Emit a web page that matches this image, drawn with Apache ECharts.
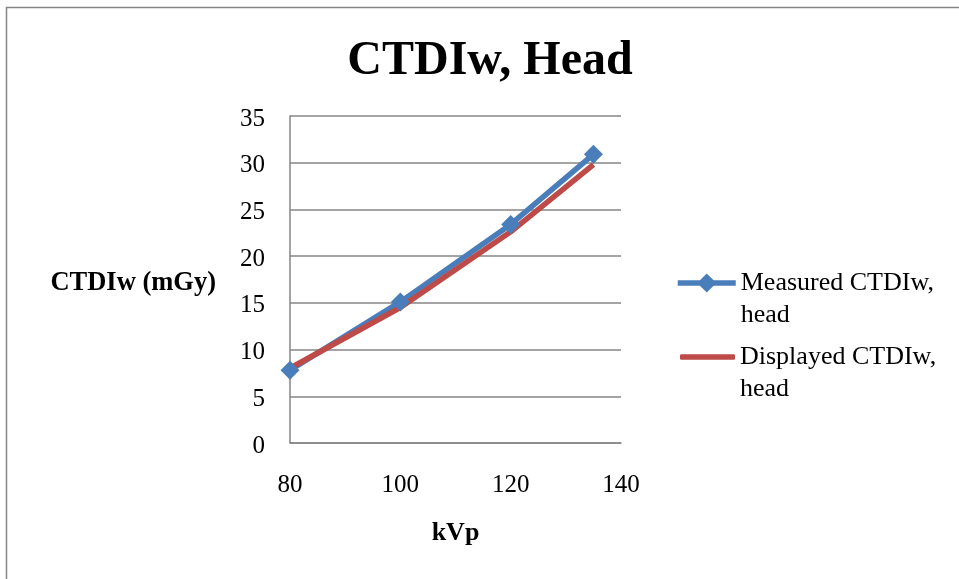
<!DOCTYPE html>
<html>
<head>
<meta charset="utf-8">
<script src="https://cdn.jsdelivr.net/npm/echarts@6/dist/echarts.min.js"></script>
<style>
  html, body { margin: 0; padding: 0; background: #fff; }
  #chart { width: 959px; height: 579px; }
</style>
</head>
<body>
<div id="chart"></div>
<script>
// CTDIw for head scans at each tube voltage
const kvp = [80, 100, 120, 135];
const measured = [7.8, 15.1, 23.4, 30.9];
const displayed = [8.0, 14.5, 22.6, 29.8];
const seriesNames = ['Measured CTDIw,\nhead', 'Displayed CTDIw,\nhead'];

const FONT = '"Liberation Serif", "Times New Roman", serif';
const GRAY = '#868686';
const BLUE = '#4a7ebb';
const RED = '#be4b48';

const pairs = (ys) => kvp.map((x, i) => [x, ys[i]]);

// a blank first line keeps the legend marker level with the first text line
const legendText = { fontFamily: FONT, fontSize: 26, color: '#000', lineHeight: 32 };
const legendFormatter = (name) => '\n' + name;

const chart = echarts.init(document.getElementById('chart'), null, { renderer: 'canvas' });
chart.setOption({
  animation: false,
  backgroundColor: '#fff',
  title: {
    text: 'CTDIw, Head',
    left: 485, top: 33, textAlign: 'center',
    textStyle: { fontFamily: FONT, fontSize: 48, fontWeight: 'bold', color: '#000' }
  },
  grid: { left: 290, right: 338, top: 116, bottom: 136, containLabel: false },
  xAxis: {
    type: 'value', min: 80, max: 140, interval: 20,
    name: 'kVp', nameLocation: 'middle', nameGap: 77,
    nameTextStyle: { fontFamily: FONT, fontSize: 26, fontWeight: 'bold', color: '#000' },
    axisLine: { show: true, lineStyle: { color: GRAY, width: 1.5 } },
    axisTick: { show: false },
    splitLine: { show: false },
    axisLabel: { fontFamily: FONT, fontSize: 25, color: '#000', margin: 30 }
  },
  yAxis: {
    type: 'value', min: 0, max: 35, interval: 5,
    name: 'CTDIw (mGy)', nameLocation: 'middle', nameRotate: 0, nameGap: 74,
    nameTextStyle: {
      fontFamily: FONT, fontSize: 26.5, fontWeight: 'bold', color: '#000',
      align: 'right', verticalAlign: 'top', lineHeight: 7
    },
    axisLine: { show: true, lineStyle: { color: GRAY, width: 1.5 } },
    axisTick: { show: false },
    splitLine: { show: true, lineStyle: { color: GRAY, width: 1.5 } },
    axisLabel: {
      fontFamily: FONT, fontSize: 25, color: '#000', margin: 25,
      verticalAlign: 'top', lineHeight: 6
    }
  },
  legend: [
    {
      data: [seriesNames[0]], left: 675, top: 283 - 48, padding: 0,
      itemWidth: 58, itemHeight: 24, itemGap: 4,
      lineStyle: { width: 5.5 },
      formatter: legendFormatter, textStyle: legendText
    },
    {
      data: [{ name: seriesNames[1], icon: 'roundRect' }], left: 680, top: 357 - 48, padding: 0,
      itemWidth: 55, itemHeight: 5.5, itemGap: 4,
      formatter: legendFormatter, textStyle: legendText
    }
  ],
  graphic: [{
    type: 'rect', silent: true, z: -1,
    shape: { x: 6.5, y: 7.5, width: 1200, height: 1200 },
    style: { fill: 'none', stroke: GRAY, lineWidth: 1.5 }
  }],
  series: [
    {
      name: seriesNames[0], type: 'line', data: pairs(measured),
      symbol: 'diamond', symbolSize: 19, showSymbol: true,
      lineStyle: { color: BLUE, width: 5.5 },
      itemStyle: { color: BLUE }
    },
    {
      name: seriesNames[1], type: 'line', data: pairs(displayed),
      symbol: 'none',
      lineStyle: { color: RED, width: 5.5 },
      itemStyle: { color: RED }
    }
  ]
});
</script>
</body>
</html>
